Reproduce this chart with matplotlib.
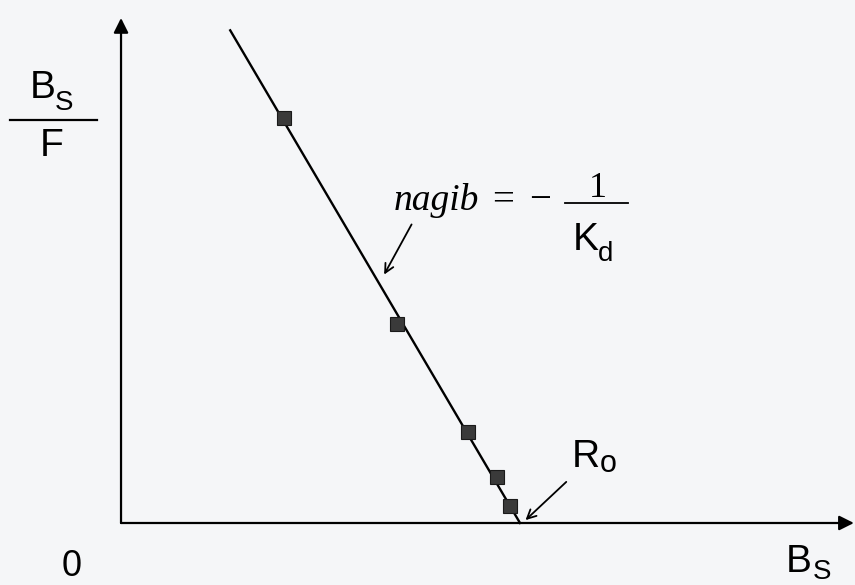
import numpy as np
import matplotlib
matplotlib.use("Agg")
import matplotlib.pyplot as plt

# measured points (B_S, B_S/F) in arbitrary units
bs = [2.33, 3.94, 4.96, 5.37, 5.56]
bs_f = [8.10, 3.98, 1.82, 0.92, 0.34]

# fitted line: slope = -1/Kd, crosses x axis at R0
r0 = 5.70
slope = -2.38
line_x = [1.56, r0]

sans = 'Liberation Sans'
serif = 'Liberation Serif'
bg = '#f5f6f8'

fig = plt.figure(figsize=(8.55, 5.85), dpi=100, facecolor=bg)
ax = fig.add_axes([0, 0, 1, 1])
ax.set_facecolor(bg)
ax.set_xlim(-1.729, 10.486)
ax.set_ylim(-1.24, 10.46)
ax.axis('off')


def sub_label(x, y, main, sub, sx, sy, size=28, subsize=20):
    # main letter and its subscript, both anchored at left/baseline
    ax.text(x, y, main, fontsize=size, family=sans, ha='left', va='baseline')
    ax.text(sx, sy, sub, fontsize=subsize, family=sans, ha='left',
            va='baseline')


# axes with arrow heads
arr = dict(arrowstyle='-|>', lw=1.6, color='black', mutation_scale=22,
           shrinkA=0, shrinkB=0)
ax.annotate('', xy=(0, 10.1), xytext=(0, 0), arrowprops=arr)
ax.annotate('', xy=(10.47, 0), xytext=(0, 0), arrowprops=arr)

lx = np.array(line_x)
ax.plot(lx, slope * (lx - r0), color='black', lw=1.7)
ax.plot(bs, bs_f, 's', ms=10, color='#3a3a3a', mec='#1a1a1a', mew=0.8)

# y label B_S / F
sub_label(-1.30, 8.50, 'B', 'S', -0.94, 8.26)
ax.plot([-1.59, -0.34], [8.06, 8.06], color='black', lw=1.6)
ax.text(-0.99, 7.55, 'F', fontsize=28, family=sans, ha='center', va='center')

ax.text(-0.70, -0.88, '0', fontsize=26, family=sans, ha='center', va='center')
sub_label(9.50, -0.98, 'B', 'S', 9.88, -1.12)

# slope label
ax.text(3.89, 6.26, 'nagib', fontsize=27, family=serif, style='italic',
        ha='left', va='baseline')
ax.text(5.46, 6.26, '=', fontsize=28, family=serif, ha='center', va='baseline')
ax.text(5.99, 6.26, '\u2212', fontsize=28, family=serif, ha='center',
        va='baseline')
ax.text(6.81, 6.52, '1', fontsize=26, family=serif, ha='center',
        va='baseline')
ax.plot([6.34, 7.24], [6.40, 6.40], color='black', lw=1.3)
sub_label(6.46, 5.46, 'K', 'd', 6.81, 5.24)
ax.annotate('', xy=(3.74, 4.92), xytext=(4.17, 6.02),
            arrowprops=dict(arrowstyle='->', lw=1.3, color='black',
                            mutation_scale=16))

# R0 label
sub_label(6.44, 1.12, 'R', 'o', 6.84, 1.02, subsize=22)
ax.annotate('', xy=(r0 + 0.05, 0.02), xytext=(6.39, 0.86),
            arrowprops=dict(arrowstyle='->', lw=1.3, color='black',
                            mutation_scale=16))

fig.savefig('out.png', dpi=100, facecolor=bg)
